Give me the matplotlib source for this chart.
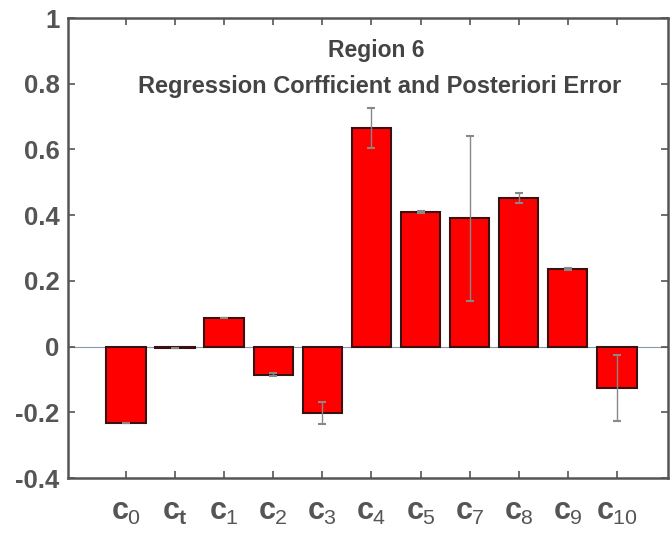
import matplotlib
matplotlib.use("Agg")
import matplotlib.pyplot as plt
import numpy as np

labels = ["$c_0$", "$c_t$", "$c_1$", "$c_2$", "$c_3$", "$c_4$", "$c_5$", "$c_7$", "$c_8$", "$c_9$", "$c_{10}$"]
values = [-0.234, -0.003, 0.088, -0.085, -0.202, 0.665, 0.410, 0.390, 0.452, 0.236, -0.125]
errors = [0.0, 0.0, 0.0, 0.006, 0.033, 0.060, 0.004, 0.250, 0.015, 0.002, 0.100]
yticks = [-0.4, -0.2, 0, 0.2, 0.4, 0.6, 0.8, 1]
ytick_labels = ["-0.4", "-0.2", "0", "0.2", "0.4", "0.6", "0.8", "1"]

plt.rcParams['font.family'] = ['Liberation Sans', 'DejaVu Sans']
plt.rcParams['mathtext.fontset'] = 'custom'
plt.rcParams['mathtext.rm'] = 'Liberation Sans'
plt.rcParams['mathtext.it'] = 'Liberation Sans:bold'

fig = plt.figure(figsize=(6.7, 5.39), dpi=100)
ax = fig.add_axes([68/670, 1 - 478/539, 600/670, 460/539])

gray = "#555555"
x = np.arange(1, len(values) + 1)
ax.bar(x, values, width=0.8, color="#ff0000", edgecolor="#3a1010", linewidth=1.5, zorder=2)
ax.errorbar(x, values, yerr=errors, fmt="none", ecolor="#888888", elinewidth=1.0,
            capsize=3, capthick=1.5, zorder=3)
ax.axhline(0, color="#8899aa", linewidth=0.8, zorder=1)

ax.set_xlim(-0.18, 12.04)
ax.set_ylim(-0.4, 1)
ax.set_yticks(yticks)
ax.set_yticklabels(ytick_labels)
ax.set_xticks(x)
ax.set_xticklabels(labels)

for s in ax.spines.values():
    s.set_color(gray)
    s.set_linewidth(1.8)
ax.tick_params(direction="in", length=5, width=1.2, color=gray, top=True, right=True,
               labelcolor=gray)
ax.tick_params(axis="y", labelsize=18.5, pad=6)
ax.tick_params(axis="x", labelsize=22, pad=14)
for t in ax.get_yticklabels() + ax.get_xticklabels():
    t.set_fontweight("bold")

ax.text(376/670, 1 - 50/539, "Region 6", transform=fig.transFigure, ha="center", va="center",
        fontsize=16.5, fontweight="bold", color="#444444")
ax.text(380/670, 1 - 86/539, "Regression Corfficient and Posteriori Error", transform=fig.transFigure,
        ha="center", va="center", fontsize=17, fontweight="bold", color="#444444")

fig.savefig("out.png", dpi=100)
